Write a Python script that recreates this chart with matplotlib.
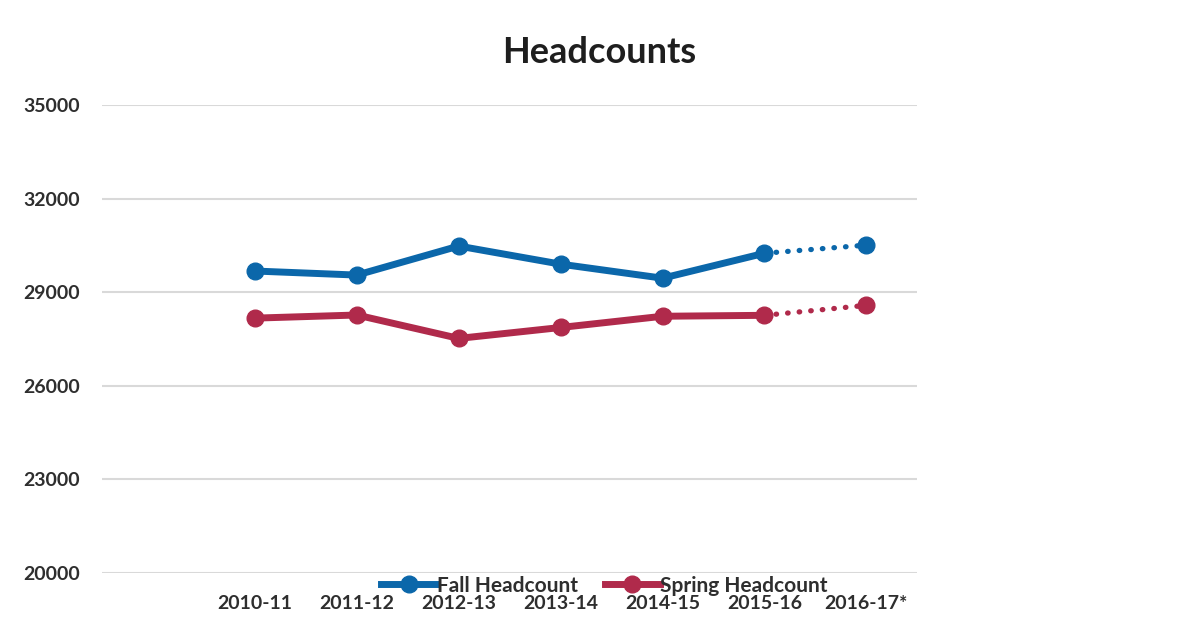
import matplotlib.pyplot as plt
from matplotlib.lines import Line2D

plt.rcParams['font.family'] = ['Lato', 'DejaVu Sans']

years = ['2010-11', '2011-12', '2012-13', '2013-14', '2014-15', '2015-16', '2016-17*']
fall = [29680, 29550, 30480, 29900, 29450, 30250, 30510]
spring = [28170, 28270, 27520, 27870, 28230, 28260, 28580]

blue = '#0b67aa'
red = '#b02a4b'

fig = plt.figure(figsize=(11.92, 6.29), dpi=100)
ax = fig.add_axes([0.0856, 0.089, 0.684, 0.744])

x = list(range(len(years)))
for vals, c in [(fall, blue), (spring, red)]:
    ax.plot(x[:6], vals[:6], color=c, lw=5, marker='o', ms=12,
            solid_capstyle='round', zorder=3)
    ax.plot(x[5:], vals[5:], color=c, lw=3.8, ls=(0, (0.1, 2.1)),
            dash_capstyle='round', zorder=3)
    ax.plot(x[6], vals[6], color=c, marker='o', ms=12, zorder=3)

ax.set_xlim(-1.5, 6.5)
ax.set_ylim(20000, 35000)
ax.set_yticks(range(20000, 35001, 3000))
ax.set_xticks(x)
ax.set_xticklabels(years)
ax.grid(axis='y', color='#d9d9d9', lw=1.5)
ax.set_axisbelow(True)
for s in ax.spines.values():
    s.set_visible(False)
ax.tick_params(length=0, labelsize=14, labelcolor='#2e2e2e')
ax.tick_params(axis='x', pad=16)
ax.tick_params(axis='y', pad=16)
for t in ax.get_xticklabels() + ax.get_yticklabels():
    t.set_fontweight('bold')

fig.text(0.503, 0.917, 'Headcounts', ha='center', va='center',
         fontsize=26, fontweight='bold', color='#1e1e1e')

handles = [Line2D([], [], color=blue, lw=5, marker='o', ms=12),
           Line2D([], [], color=red, lw=5, marker='o', ms=12)]
fig.legend(handles, ['Fall Headcount', 'Spring Headcount'], ncol=2,
           loc='center', bbox_to_anchor=(0.507, 0.069), frameon=False,
           handlelength=2.65, handletextpad=0.0,
           columnspacing=1.3, labelcolor='#2e2e2e',
           prop={'weight': 'bold', 'size': 15})

fig.savefig('out.png', dpi=100, facecolor='white')
